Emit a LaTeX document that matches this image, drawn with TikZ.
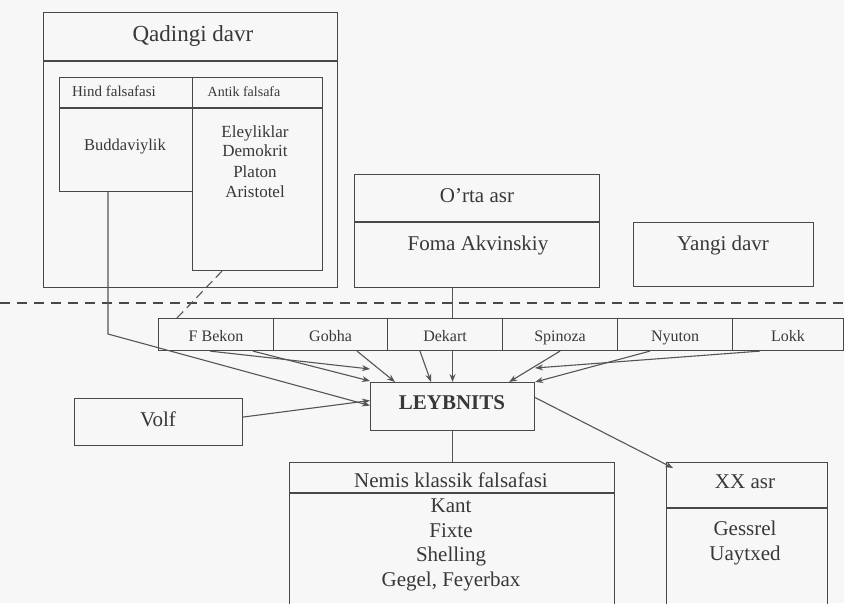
\documentclass[tikz,border=0pt]{standalone}
\usepackage{fontspec}
\setmainfont{Liberation Serif}
\usetikzlibrary{arrows.meta,calc}
\definecolor{ln}{HTML}{484848}
\definecolor{cn}{HTML}{555555}
\definecolor{tx}{HTML}{383838}
\definecolor{bg}{HTML}{F7F7F7}
\begin{document}
\begin{tikzpicture}[x=1pt,y=-1pt,
  frame/.style={draw=ln, line width=1.1pt, rectangle, inner sep=0pt, anchor=north west},
  lbl/.style={text=tx, inner sep=0pt, anchor=base},
  lst/.style={text=tx, inner sep=0pt, anchor=north, align=center},
  big/.style={font=\fontsize{21}{24.5}\selectfont},
  mid/.style={font=\fontsize{17}{20}\selectfont},
  sml/.style={font=\fontsize{15}{18}\selectfont},
  rowt/.style={font=\fontsize{16}{18}\selectfont},
  con/.style={draw=cn, line width=1.1pt},
  arr/.style={draw=cn, line width=1.1pt, -{Stealth[length=8pt,width=6pt]}},
  sep/.style={draw=ln, line width=1.1pt}]
\fill[bg] (0,0) rectangle (844,603);
\useasboundingbox (0,0) rectangle (844,603);

% Qadingi davr
\node[frame, minimum width=294pt, minimum height=275pt] (qad) at (43,12) {};
\draw[sep] (43,61) -- (337,61);
\node[lbl, font=\fontsize{23}{26}\selectfont] (qadt) at (193,41) {Qadingi davr};
\node[frame, minimum width=133pt, minimum height=114pt] (hind) at (59,77) {};
\node[frame, minimum width=130pt, minimum height=193pt] (antik) at (192,77) {};
\draw[sep] (59,108) -- (322,108);
\node[lbl, sml] (hindt) at (114,96) {Hind falsafasi};
\node[lbl, font=\fontsize{14}{17}\selectfont] (antikt) at (244,96) {Antik falsafa};
\node[lbl, font=\fontsize{16.5}{20}\selectfont] (budd) at (125,150) {Buddaviylik};
\node[lst, mid] (antl) at (255,125) {Eleyliklar\\Demokrit\\Platon\\Aristotel};

% O'rta asr, Yangi davr
\node[frame, minimum width=245pt, minimum height=113pt] (orta) at (354,174) {};
\draw[sep] (354,222) -- (599,222);
\node[lbl, big] (ortat) at (477,202) {O'rta asr};
\node[lbl, big] (foma) at (478,250) {Foma Akvinskiy};
\node[frame, minimum width=180pt, minimum height=64pt] (yangi) at (633,222) {};
\node[lbl, big] (yangit) at (723,250) {Yangi davr};

% dashed separator
\draw[draw=ln, line width=1.4pt, dash pattern=on 10pt off 7pt] (0,303) -- (844,303);

% row of thinkers
\node[frame, minimum width=115pt, minimum height=32pt] (fbekon) at (158,318) {};
\node[frame, minimum width=114pt, minimum height=32pt] (gobha) at (273,318) {};
\node[frame, minimum width=115pt, minimum height=32pt] (dekart) at (387,318) {};
\node[frame, minimum width=115pt, minimum height=32pt] (spinoza) at (502,318) {};
\node[frame, minimum width=115pt, minimum height=32pt] (nyuton) at (617,318) {};
\node[frame, minimum width=111pt, minimum height=32pt] (lokk) at (732,318) {};
\node[lbl, rowt] at (fbekon.center |- 0,341) {F Bekon};
\node[lbl, rowt] at (gobha.center |- 0,341) {Gobha};
\node[lbl, rowt] at (dekart.center |- 0,341) {Dekart};
\node[lbl, rowt] at (spinoza.center |- 0,341) {Spinoza};
\node[lbl, rowt] at (nyuton.center |- 0,341) {Nyuton};
\node[lbl, rowt] at (lokk.center |- 0,341) {Lokk};

% Leybnits, Volf
\node[frame, minimum width=164pt, minimum height=48pt] (leyb) at (370,382) {};
\node[lbl, font=\fontsize{21}{24}\selectfont\bfseries] (leybt) at (452,409) {LEYBNITS};
\node[frame, minimum width=168pt, minimum height=47pt] (volf) at (74,398) {};
\node[lbl, big] (volft) at (158,426) {Volf};

% lower boxes (cut by the page edge)
\node[frame, minimum width=325pt, minimum height=170pt] (nemis) at (289,462) {};
\draw[sep] (289,493) -- (614,493);
\node[lbl, big] (nemist) at (451,487) {Nemis klassik falsafasi};
\node[lst, big] (neml) at (451,499) {Kant\\Fixte\\Shelling\\Gegel, Feyerbax};
\node[frame, minimum width=161pt, minimum height=170pt] (xx) at (666,462) {};
\draw[sep] (666,508) -- (827,508);
\node[lbl, big] (xxt) at (745,488) {XX asr};
\node[lst, big] (xxl) at (745,521) {Gessrel\\Uaytxed};

% connectors
\coordinate (hk) at (108,334);
\draw[arr] (hk |- hind.south) -- (hk) -- ([yshift=1pt]leyb.west);
\draw[con, dash pattern=on 9pt off 5pt] ([xshift=30pt]antik.south west) -- ([xshift=19pt]fbekon.north west);
\draw[arr] ([xshift=52pt]fbekon.south west) -- ([yshift=13pt]leyb.north west);
\draw[arr] ([xshift=95pt]fbekon.south west) -- ([yshift=1pt]leyb.north west);
\draw[arr] ([xshift=84pt]gobha.south west) -- ([xshift=25pt]leyb.north west);
\draw[arr] ([xshift=33pt]dekart.south west) -- ([xshift=61pt]leyb.north west);
\draw[con] (leyb.north |- orta.south) -- (leyb.north |- dekart.north);
\draw[arr] (leyb.north |- dekart.south) -- (leyb.north);
\draw[arr] ([xshift=58pt]spinoza.south west) -- ([xshift=-26pt]leyb.north east);
\draw[arr] ([xshift=33pt]nyuton.south west) -- (leyb.north east);
\draw[arr] ([xshift=28pt]lokk.south west) -- ([yshift=14pt]leyb.north east);
\draw[arr] ([yshift=5pt]volf.east) -- ([yshift=6pt]leyb.west);
\draw[con] (leyb.south) -- (leyb.south |- nemis.north);
\draw[arr] ([yshift=9pt]leyb.east) -- ([xshift=7pt,yshift=-6pt]xx.north west);
\end{tikzpicture}
\end{document}
